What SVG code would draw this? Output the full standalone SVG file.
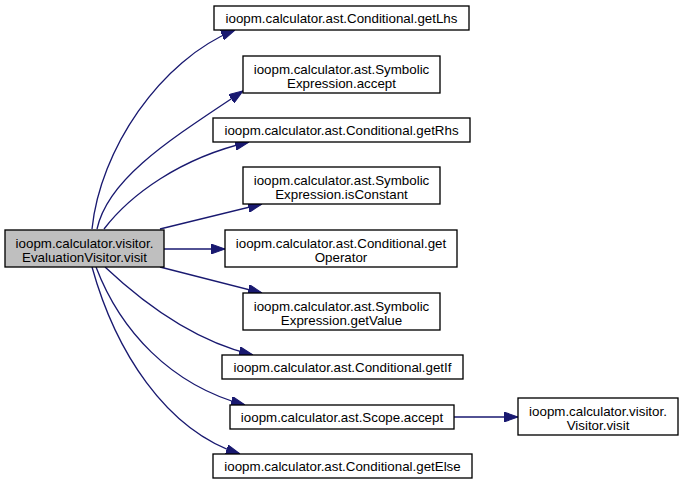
<svg xmlns="http://www.w3.org/2000/svg" width="683" height="484" viewBox="0 0 683 484">
<style>
.n rect{fill:#ffffff;stroke:#000000;stroke-width:1.33}
.n.main rect{fill:#bfbfbf}
.n text{font-family:"Liberation Sans",Arial,Helvetica,sans-serif;font-size:13.33px;text-anchor:middle;fill:#000000}
.e path{fill:none;stroke:#191970;stroke-width:1.33;marker-end:url(#ah)}
</style>
<defs>
<marker id="ah" markerUnits="userSpaceOnUse" markerWidth="14" markerHeight="10" viewBox="0 0 13.3 9.4" refX="13.3" refY="4.7" orient="auto">
<path d="M0,0 L13.3,4.7 L0,9.4 z" fill="#191970" stroke="#191970" stroke-width="1"/>
</marker>
</defs>
<rect width="683" height="484" fill="#ffffff"/>
<g class="e" id="edges">
<path d="M92,229 C100,150 160,60 235,30"/>
<path d="M97,229 C108,178 171,139 243,91"/>
<path d="M104,229 C130,195 180,158 249,142"/>
<path d="M160,229 L262,204"/>
<path d="M164,249 L225,249"/>
<path d="M160,267 L262,293"/>
<path d="M105,267 C140,300 190,340 253,355"/>
<path d="M96,267 C120,330 170,385 245,405"/>
<path d="M92,267 C115,350 165,430 240,454"/>
<path d="M454,417 L518,417"/>
</g>
<g class="n main" id="node_main">
<rect x="5" y="230" width="159" height="37"/>
<text x="84.5" y="247.8">ioopm.calculator.visitor.</text>
<text x="84.5" y="261.8">EvaluationVisitor.visit</text>
</g>
<g class="n" id="node_getLhs">
<rect x="214" y="6" width="255" height="24"/>
<text x="341.5" y="22.8">ioopm.calculator.ast.Conditional.getLhs</text>
</g>
<g class="n" id="node_symAccept">
<rect x="243" y="56" width="197" height="37"/>
<text x="341.5" y="73.8">ioopm.calculator.ast.Symbolic</text>
<text x="341.5" y="87.8">Expression.accept</text>
</g>
<g class="n" id="node_getRhs">
<rect x="213" y="118" width="257" height="24"/>
<text x="341.5" y="134.8">ioopm.calculator.ast.Conditional.getRhs</text>
</g>
<g class="n" id="node_isConstant">
<rect x="243" y="167" width="197" height="37"/>
<text x="341.5" y="184.8">ioopm.calculator.ast.Symbolic</text>
<text x="341.5" y="198.8">Expression.isConstant</text>
</g>
<g class="n" id="node_getOperator">
<rect x="225" y="230" width="232" height="37"/>
<text x="341" y="247.8">ioopm.calculator.ast.Conditional.get</text>
<text x="341" y="261.8">Operator</text>
</g>
<g class="n" id="node_getValue">
<rect x="243" y="293" width="197" height="37"/>
<text x="341.5" y="310.8">ioopm.calculator.ast.Symbolic</text>
<text x="341.5" y="324.8">Expression.getValue</text>
</g>
<g class="n" id="node_getIf">
<rect x="222" y="355" width="241" height="24"/>
<text x="342.5" y="371.8">ioopm.calculator.ast.Conditional.getIf</text>
</g>
<g class="n" id="node_scopeAccept">
<rect x="230" y="405" width="224" height="24"/>
<text x="342" y="421.8">ioopm.calculator.ast.Scope.accept</text>
</g>
<g class="n" id="node_getElse">
<rect x="213" y="454" width="259" height="24"/>
<text x="342.5" y="470.8">ioopm.calculator.ast.Conditional.getElse</text>
</g>
<g class="n" id="node_visitorVisit">
<rect x="518" y="398" width="160" height="37"/>
<text x="598" y="415.8">ioopm.calculator.visitor.</text>
<text x="598" y="429.8">Visitor.visit</text>
</g>
</svg>
